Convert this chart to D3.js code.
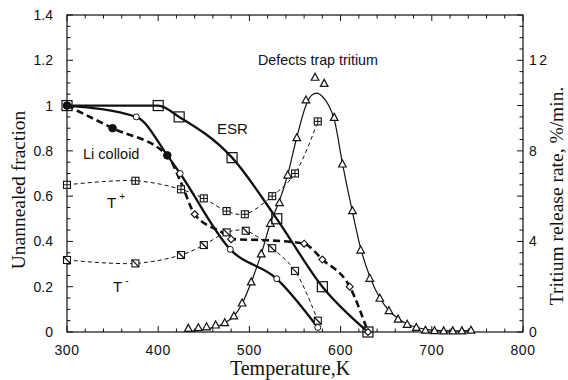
<!DOCTYPE html>
<html>
<head>
<meta charset="utf-8">
<script src="https://cdn.jsdelivr.net/npm/d3@7"></script>
<style>
body { margin: 0; background: #fff; }
.tick-label { font-family: "Liberation Sans", Arial, sans-serif; font-size: 14px; fill: #111; }
.note { font-family: "Liberation Sans", Arial, sans-serif; fill: #111; }
.title { font-family: "Liberation Serif", "Times New Roman", serif; font-size: 20px; fill: #111; }
</style>
</head>
<body>
<div id="chart"></div>
<script>
// ESR (big open squares, thick solid)
var esrTemp = [300, 400, 423, 481, 530, 580, 630];
var esrFrac = [1.0, 1.0, 0.95, 0.77, 0.50, 0.20, 0.0];

// open circles, thick solid
var circTemp = [300, 376, 410, 424, 479, 530, 575];
var circFrac = [1.0, 0.95, 0.78, 0.70, 0.365, 0.235, 0.02];

// Li colloid (thick dashed): filled dots then small diamonds
var liDotTemp = [300, 350, 410];
var liDotFrac = [1.0, 0.90, 0.78];
var liDiaTemp = [440, 480, 560, 580, 610, 630];
var liDiaFrac = [0.52, 0.41, 0.39, 0.32, 0.20, 0.0];
var liLineTemp = [300, 350, 410, 425, 440, 470, 482, 520, 560, 580, 610, 630];
var liLineFrac = [1.0, 0.90, 0.78, 0.66, 0.52, 0.44, 0.41, 0.405, 0.39, 0.32, 0.20, 0.0];

// T+ (crossed squares, thin dashed)
var tPlusTemp = [300, 375, 425, 450, 475, 495, 525, 550, 575];
var tPlusFrac = [0.65, 0.668, 0.63, 0.59, 0.534, 0.52, 0.60, 0.70, 0.93];

// T- (slashed squares, thin dashed)
var tMinusTemp = [300, 375, 425, 450, 475, 496, 525, 550, 575];
var tMinusFrac = [0.318, 0.303, 0.34, 0.384, 0.44, 0.447, 0.37, 0.27, 0.05];

// Tritium release rate, %/min (triangles, right axis)
var tritTemp = [433, 444, 453, 463, 473, 483, 492, 502, 513, 523, 533, 542, 552, 562, 572, 582, 593, 602, 613, 622, 632, 643, 653, 663, 673, 683, 693, 703, 713, 723, 733, 743];
var tritRate = [0.16, 0.19, 0.23, 0.31, 0.41, 0.71, 1.28, 2.21, 3.45, 4.8, 5.71, 6.93, 8.58, 10.25, 11.25, 10.98, 9.48, 7.42, 5.36, 3.62, 2.37, 1.49, 0.94, 0.57, 0.34, 0.2, 0.08, 0.06, 0.05, 0.05, 0.05, 0.08];

// fitted curve through the triangles
var fitTemp = [433, 445, 460, 473, 483, 492, 502, 513, 523, 533, 542, 552, 562, 568, 574, 580, 587, 593, 602, 613, 622, 632, 643, 653, 663, 673, 684, 694, 705, 720, 742];
var fitRate = [0.02, 0.08, 0.2, 0.4, 0.7, 1.25, 2.2, 3.45, 4.8, 5.8, 6.95, 8.6, 10.0, 10.45, 10.55, 10.4, 10.0, 9.4, 7.45, 5.3, 3.7, 2.45, 1.5, 0.95, 0.6, 0.35, 0.2, 0.12, 0.07, 0.05, 0.06];

var xTicks = [300, 400, 500, 600, 700, 800];
var yTicks = [0, 0.2, 0.4, 0.6, 0.8, 1, 1.2, 1.4];
var yTickLabels = ["0", "0.2", "0.4", "0.6", "0.8", "1", "1.2", "1.4"];
var rTicks = [0, 4, 8, 12];
var rTickLabels = ["0", "4", "8", "12"];

var svgWidth = 568;
var svgHeight = 380;
var margin = { top: 15, bottom: 48, left: 67, right: 45 };
var chartWidth = svgWidth - margin.left - margin.right;
var chartHeight = svgHeight - margin.top - margin.bottom;

var svg = d3.select("#chart")
    .append("svg")
    .attr("width", svgWidth)
    .attr("height", svgHeight);

var g = svg.append("g")
    .attr("transform", `translate(${margin.left}, ${margin.top})`);

var x = d3.scaleLinear().domain([300, 800]).range([0, chartWidth]);
var y = d3.scaleLinear().domain([0, 1.4]).range([chartHeight, 0]);
var yR = d3.scaleLinear().domain([0, 14]).range([chartHeight, 0]);

var ink = "#111";

// frame
g.append("rect")
    .attr("width", chartWidth).attr("height", chartHeight)
    .attr("fill", "none").attr("stroke", ink).attr("stroke-width", 1.2);

// inward ticks
var tk = g.append("g").attr("stroke", ink).attr("stroke-width", 1);
d3.range(300, 801, 20).forEach(function(v) {
    var len = (v % 100 === 0) ? 6 : 3.5;
    tk.append("line").attr("x1", x(v)).attr("x2", x(v)).attr("y1", chartHeight).attr("y2", chartHeight - len);
    tk.append("line").attr("x1", x(v)).attr("x2", x(v)).attr("y1", 0).attr("y2", len);
});
d3.range(0, 29).forEach(function(i) {
    var v = i * 0.05;
    var len = (i % 4 === 0) ? 6 : 3.5;
    tk.append("line").attr("x1", 0).attr("x2", len).attr("y1", y(v)).attr("y2", y(v));
});
d3.range(0, 29).forEach(function(i) {
    var v = i * 0.5;
    var len = (i % 4 === 0) ? 6 : 3.5;
    tk.append("line").attr("x1", chartWidth).attr("x2", chartWidth - len).attr("y1", yR(v)).attr("y2", yR(v));
});

// tick labels
g.selectAll(".xl").data(xTicks).enter().append("text")
    .attr("class", "tick-label")
    .attr("x", d => x(d)).attr("y", chartHeight + 23)
    .attr("text-anchor", "middle")
    .style("letter-spacing", "0.6px")
    .text(d => d);
g.selectAll(".yl").data(yTicks).enter().append("text")
    .attr("class", "tick-label")
    .attr("x", -14).attr("y", d => y(d)).attr("dy", "0.36em")
    .attr("text-anchor", "end")
    .text((d, i) => yTickLabels[i]);
g.selectAll(".rl").data(rTicks).enter().append("text")
    .attr("class", "tick-label")
    .attr("x", chartWidth + 6).attr("y", d => yR(d)).attr("dy", "0.36em")
    .style("letter-spacing", "2.5px")
    .text((d, i) => rTickLabels[i]);

// axis titles
svg.append("text").attr("class", "title")
    .attr("x", 290).attr("y", 375).attr("text-anchor", "middle")
    .text("Temperature,K");
svg.append("text").attr("class", "title")
    .attr("transform", "translate(25,190) rotate(-90)")
    .attr("text-anchor", "middle").style("font-size", "19.5px")
    .text("Unannealed fraction");
svg.append("text").attr("class", "title")
    .attr("transform", "translate(563,196) rotate(-90)")
    .attr("text-anchor", "middle").style("font-size", "19.5px")
    .text("Tritium release rate, %/min.");

function pts(xs, ys) { return xs.map((t, i) => [t, ys[i]]); }

var lineL = d3.line().x(d => x(d[0])).y(d => y(d[1]));
var lineR = d3.line().x(d => x(d[0])).y(d => yR(d[1]));

function drawLine(data, gen, curve, width, dash) {
    g.append("path")
        .datum(data)
        .attr("d", gen.curve(curve))
        .attr("fill", "none")
        .attr("stroke", ink)
        .attr("stroke-width", width)
        .attr("stroke-dasharray", dash || null)
        .attr("stroke-linejoin", "round");
}

drawLine(pts(fitTemp, fitRate), lineR, d3.curveMonotoneX, 1.2);
drawLine(pts(tPlusTemp, tPlusFrac), lineL, d3.curveCatmullRom, 1, "4,3");
drawLine(pts(tMinusTemp, tMinusFrac), lineL, d3.curveCatmullRom, 1, "4,3");
drawLine(pts(liLineTemp, liLineFrac), lineL, d3.curveMonotoneX, 2.6, "7,4");
drawLine(pts(circTemp, circFrac), lineL, d3.curveMonotoneX, 2.3);
drawLine(pts(esrTemp, esrFrac), lineL, d3.curveMonotoneX, 2.3);

// markers
var mk = g.append("g").attr("stroke", ink).attr("fill", "#fff");

pts(tritTemp, tritRate).forEach(function(d) {
    var cx = x(d[0]), cy = yR(d[1]);
    mk.append("path")
        .attr("d", `M${cx - 3.8},${cy + 3} L${cx + 3.8},${cy + 3} L${cx},${cy - 4} Z`)
        .attr("stroke-width", 1.2);
});

pts(tPlusTemp, tPlusFrac).forEach(function(d) {
    var cx = x(d[0]), cy = y(d[1]), s = 3.5;
    mk.append("rect").attr("x", cx - s).attr("y", cy - s).attr("width", 2 * s).attr("height", 2 * s).attr("stroke-width", 1.1);
    mk.append("path").attr("d", `M${cx - s},${cy} H${cx + s} M${cx},${cy - s} V${cy + s}`).attr("stroke-width", 1);
});

pts(tMinusTemp, tMinusFrac).forEach(function(d) {
    var cx = x(d[0]), cy = y(d[1]), s = 3.5;
    mk.append("rect").attr("x", cx - s).attr("y", cy - s).attr("width", 2 * s).attr("height", 2 * s).attr("stroke-width", 1.1);
    mk.append("path").attr("d", `M${cx - s},${cy - s} L${cx + s},${cy + s}`).attr("stroke-width", 1.3);
});

pts(esrTemp, esrFrac).forEach(function(d) {
    var cx = x(d[0]), cy = y(d[1]), s = 5;
    mk.append("rect").attr("x", cx - s).attr("y", cy - s).attr("width", 2 * s).attr("height", 2 * s)
        .attr("fill", "none").attr("stroke-width", 1.2);
});

pts(circTemp, circFrac).forEach(function(d) {
    mk.append("circle").attr("cx", x(d[0])).attr("cy", y(d[1])).attr("r", 3).attr("stroke-width", 1);
});

pts(liDiaTemp, liDiaFrac).forEach(function(d) {
    var cx = x(d[0]), cy = y(d[1]), s = 3.5;
    mk.append("path").attr("d", `M${cx},${cy - s} L${cx + s},${cy} L${cx},${cy + s} L${cx - s},${cy} Z`).attr("stroke-width", 1.1);
});

pts(liDotTemp, liDotFrac).forEach(function(d) {
    mk.append("circle").attr("cx", x(d[0])).attr("cy", y(d[1])).attr("r", 3.8).attr("fill", ink);
});

// annotations
function note(tx, ty, str, size) {
    return svg.append("text").attr("class", "note")
        .attr("x", tx).attr("y", ty)
        .style("font-size", size + "px")
        .text(str);
}
note(83, 159, "Li colloid", 14.5);
note(217, 134, "ESR", 15);
note(258, 65, "Defects trap tritium", 14.3);
var tp = note(107, 208, "T", 15);
tp.append("tspan").attr("dx", 3).attr("dy", -8).style("font-size", "10px").text("+");
var tm = note(113, 292, "T", 15);
tm.append("tspan").attr("dx", 3).attr("dy", -8).style("font-size", "10px").text("-");
</script>
</body>
</html>
